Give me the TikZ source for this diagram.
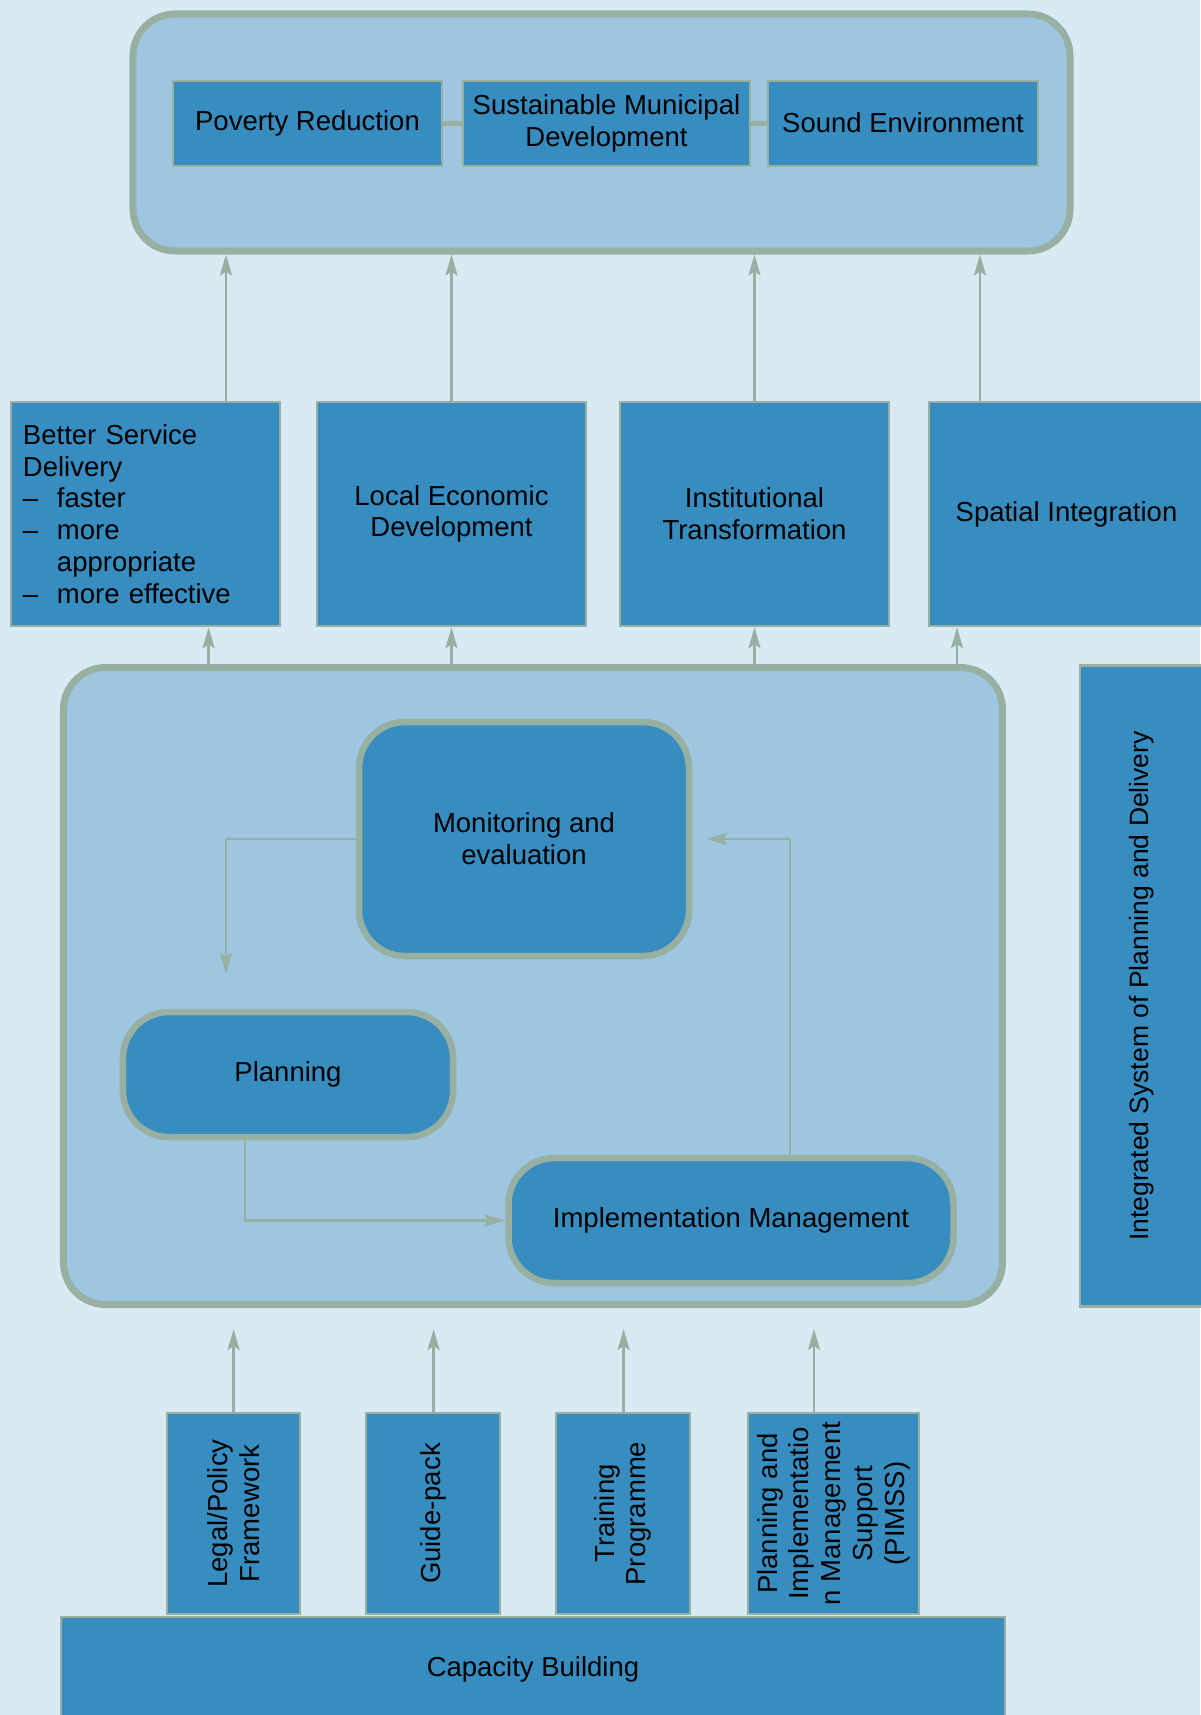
\documentclass[tikz,border=0pt]{standalone}
\usepackage{fontspec}
\setmainfont{Liberation Sans}
\usetikzlibrary{arrows.meta}
\definecolor{bg}{HTML}{D8EAF3}
\definecolor{panel}{HTML}{9EC6E0}
\definecolor{boxblue}{HTML}{378DBF}
\definecolor{edge}{HTML}{98B0A2}
\begin{document}
\begin{tikzpicture}[x=1bp,y=-1bp,
  txt/.style={font=\fontsize{27.5bp}{31.7bp}\selectfont, text=black},
  panelbox/.style={draw=edge, fill=panel, line width=7bp, rounded corners=42bp, inner sep=0pt},
  sqbox/.style={txt, draw=edge, fill=boxblue, line width=2.5bp, align=center, inner sep=0pt},
  roundbox/.style={txt, draw=edge, fill=boxblue, line width=6.5bp, rounded corners=46bp, align=center, inner sep=0pt},
  arr/.style={draw=edge, line width=2.5bp, -{Stealth[length=21bp,width=12bp,inset=4bp]}},
  bar/.style={draw=edge, line width=5bp}
]
\fill[bg] (0,0) rectangle (1200,1715);
\useasboundingbox (0,0) rectangle (1200,1715);

% top panel with goals
\node[panelbox, minimum width=937bp, minimum height=237bp] (goals) at (601.5,132.5) {};
\node[sqbox, minimum width=269bp, minimum height=85bp] (pr) at (307.5,123.5) {Poverty Reduction};
\node[sqbox, minimum width=287bp, minimum height=85bp] (smd) at (606.5,123.5) {Sustainable Municipal\\Development};
\node[sqbox, minimum width=270bp, minimum height=85bp] (se) at (903,123.5) {\raisebox{2bp}{Sound Environment}};
\draw[bar] (pr.east) -- (smd.west);
\draw[bar] (smd.east) -- (se.west);

% second row
\node[sqbox, align=left, text width=245bp, minimum width=269bp, minimum height=224bp] (bsd) at (145.5,514)
  {Better Service\\Delivery\\\makebox[34bp][l]{\textendash}faster\\\makebox[34bp][l]{\textendash}more\\\hspace*{34bp}appropriate\\\makebox[34bp][l]{\textendash}more effective};
\node[sqbox, minimum width=269bp, minimum height=224bp] (led) at (451.5,514) {Local Economic\\Development};
\node[sqbox, minimum width=269bp, minimum height=224bp] (it) at (754.5,514) {Institutional\\Transformation};
\node[sqbox, minimum width=275bp, minimum height=224bp] (si) at (1066.5,514) {Spatial Integration};

\coordinate (u1) at (226,0);
\coordinate (u2) at (451.5,0);
\coordinate (u3) at (754.5,0);
\coordinate (u4) at (980,0);
\draw[arr] (bsd.north -| u1) -- (goals.south -| u1);
\draw[arr] (led.north -| u2) -- (goals.south -| u2);
\draw[arr] (it.north -| u3) -- (goals.south -| u3);
\draw[arr] (si.north -| u4) -- (goals.south -| u4);

% middle panel
\node[panelbox, minimum width=939bp, minimum height=637bp] (mid) at (533,986) {};
\coordinate (d1) at (208.6,0);
\coordinate (d2) at (451.5,0);
\coordinate (d3) at (754.5,0);
\coordinate (d4) at (957,0);
\draw[arr] (mid.north -| d1) -- (bsd.south -| d1);
\draw[arr] (mid.north -| d2) -- (led.south -| d2);
\draw[arr] (mid.north -| d3) -- (it.south -| d3);
\draw[arr] (mid.north -| d4) -- (si.south -| d4);

\node[roundbox, minimum width=330bp, minimum height=234bp] (mon) at (524,839) {Monitoring and\\evaluation};
\node[roundbox, minimum width=330bp, minimum height=125bp] (plan) at (288,1074.5) {Planning};
\node[roundbox, minimum width=445bp, minimum height=125bp] (impl) at (731,1220.5) {Implementation Management};

\coordinate (pdrop) at (226,974);
\coordinate (px) at (245,0);
\coordinate (imx) at (790,839);
\coordinate (mtip) at (706,839);
\draw[arr] (mon.west) -| (pdrop);
\draw[arr] (plan.south -| px) |- (impl.west);
\draw[arr] (impl.north -| imx) -- (imx) -- (mtip);

% right vertical box
\node[sqbox, rotate=90, font=\fontsize{26.5bp}{31bp}\selectfont, minimum width=641bp, minimum height=124bp] (isp) at (1142,986)
  {Integrated System of Planning and Delivery};

% capacity building
\node[sqbox, minimum width=944bp, minimum height=130bp] (cap) at (533,1682) {\raisebox{30bp}{Capacity Building}};

\node[sqbox, rotate=90, minimum width=201bp, minimum height=133bp] (lpf) at (233.5,1513.5) {Legal/Policy\\Framework};
\node[sqbox, rotate=90, minimum width=201bp, minimum height=134bp] (gp) at (433,1513.5) {Guide-pack};
\node[sqbox, rotate=90, minimum width=201bp, minimum height=134bp] (tp) at (623,1513.5) {Training\\Programme};
\node[sqbox, rotate=90, minimum width=201bp, minimum height=171bp] (pims) at (833.5,1513.5)
  {Planning and\\Implementatio\\n Management\\Support\\(PIMSS)};

\coordinate (b1) at (233.6,1329);
\coordinate (b2) at (433.6,1329);
\coordinate (b3) at (623.6,1329);
\coordinate (b4) at (814,1329);
\draw[arr] (lpf.east -| b1) -- (b1);
\draw[arr] (gp.east -| b2) -- (b2);
\draw[arr] (tp.east -| b3) -- (b3);
\draw[arr] (pims.east -| b4) -- (b4);
\end{tikzpicture}
\end{document}
